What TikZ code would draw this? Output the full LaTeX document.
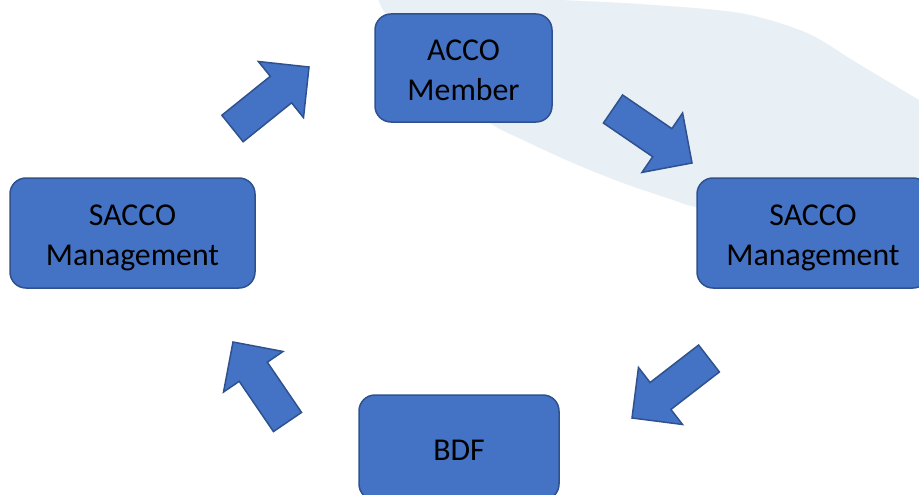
\documentclass[tikz,border=0pt]{standalone}
\usepackage{fontspec}
\setmainfont{Carlito}
\usetikzlibrary{calc}
\definecolor{boxfill}{HTML}{4472C4}
\definecolor{boxline}{HTML}{2F528F}
\definecolor{swoosh}{HTML}{E8F0F6}
\newcommand\tstr{\rule{0pt}{33.4pt}}
\newcommand\bstr{\rule[-8pt]{0pt}{8pt}}
\tikzset{
  stagebox/.style={draw=boxline, fill=boxfill, line width=1.5pt, rounded corners=16pt,
    align=center, font=\fontsize{31.8}{40}\selectfont, inner sep=0pt},
  blockarrow/.style={draw=boxline, fill=boxfill, line width=1.5pt, line join=miter},
}
\newcommand\flowarrow[2]{%
  \coordinate (bt) at (#1);
  \coordinate (bh) at (#2);
  \coordinate (bb) at ($(bh)!36pt!(bt)$);
  \draw[blockarrow] ($(bt)!17pt!90:(bh)$) -- ($(bb)!17pt!90:(bh)$) -- ($(bb)!36pt!90:(bh)$)
    -- (bh) -- ($(bb)!36pt!-90:(bh)$) -- ($(bb)!17pt!-90:(bh)$) -- ($(bt)!17pt!-90:(bh)$) -- cycle;}
\begin{document}
\begin{tikzpicture}[x=1pt,y=-1pt]
\useasboundingbox (0,0) rectangle (919,495);
\clip (0,0) rectangle (919,495);
\fill[white] (0,0) rectangle (919,495);
% background swoosh
\fill[swoosh] plot[smooth] coordinates {(560,0) (640,4) (740,13) (807,33) (857,63) (919,100)}
  -- (925,100) -- (925,232)
  -- plot[smooth] coordinates {(919,230) (840,222) (760,214) (697,207) (673,200) (623,183) (573,163) (523,140) (490,123) (450,88) (412,45) (385,13) (378,-2)}
  -- cycle;
% arrows
\coordinate (a1t) at (232.5,128.5); \coordinate (a1h) at (309,67);
\coordinate (a2t) at (613,109);     \coordinate (a2h) at (692,163);
\coordinate (a3t) at (709,358.5);   \coordinate (a3h) at (632,418);
\coordinate (a4t) at (287.5,422);   \coordinate (a4h) at (233,342);
\flowarrow{a1t}{a1h}
\flowarrow{a2t}{a2h}
\flowarrow{a3t}{a3h}
\flowarrow{a4t}{a4h}
% boxes
\node[stagebox, minimum width=177pt, minimum height=108pt] (member) at (463.5,68) {\tstr ACCO\\Member\bstr};
\node[stagebox, minimum width=245pt, minimum height=110pt] (mgmtL) at (132.5,233) {\tstr SACCO\\Management\bstr};
\node[stagebox, minimum width=232pt, minimum height=110pt] (mgmtR) at (813,233) {\tstr SACCO\\Management\bstr};
\node[stagebox, minimum width=200pt, minimum height=105pt] (bdf) at (459,447.5) {\tstr BDF\bstr};
\end{tikzpicture}
\end{document}
